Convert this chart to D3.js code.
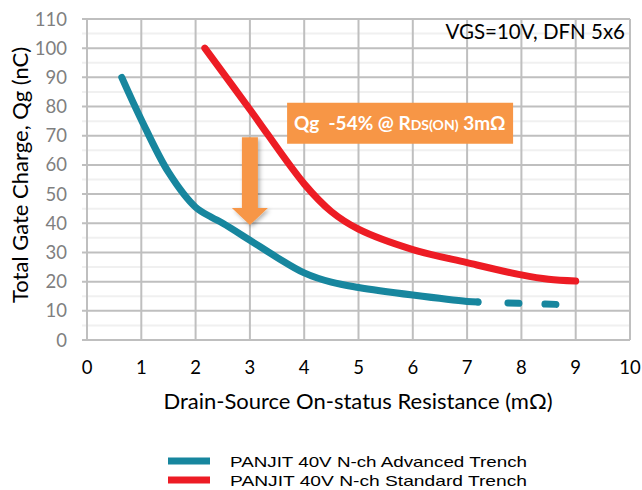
<!DOCTYPE html>
<html>
<head>
<meta charset="utf-8">
<script src="https://cdn.jsdelivr.net/npm/d3@7"></script>
<style>
  body { margin: 0; background: #fff; }
  svg { display: block; }
</style>
</head>
<body>
<div id="chart"></div>
<script>
var W = 642, H = 490;
var margin = { top: 19, right: 12, bottom: 150, left: 87 };

// data
var seriesNames = ["PANJIT 40V N-ch Advanced Trench", "PANJIT 40V N-ch Standard Trench"];
var seriesColors = ["#17869e", "#ed1c24"];
var advancedQg = [[0.64, 90], [1, 75.5], [1.5, 57.5], [2, 45.5], [2.3, 42], [2.5, 40], [3, 34.2], [3.5, 28.3], [4, 23], [4.5, 19.8], [5, 18], [6, 15.4], [7, 13.2], [7.2, 13]];
var advancedQgExtended = [[7.2, 13], [8.65, 12.2]];
var standardQg = [[2.17, 100], [3, 79], [4, 53.5], [4.5, 44], [5, 38], [6, 31], [7, 26.5], [8, 22.3], [8.5, 20.8], [9, 20.2]];
var xTickValues = d3.range(0, 11, 1);
var yTickValues = d3.range(0, 111, 10);
var yMinorValues = d3.range(5, 110, 10);
var noteText = ["Qg  -54% @ R", "DS(ON)", " 3mΩ"];
var condText = "VGS=10V, DFN 5x6";

var svg = d3.select("#chart").append("svg")
    .attr("width", W)
    .attr("height", H);

var x = d3.scaleLinear().domain([0, 10]).range([margin.left, W - margin.right]);
var y = d3.scaleLinear().domain([0, 110]).range([H - margin.bottom, margin.top]);

var font = "Lato, 'Open Sans', sans-serif";

// minor gridlines
svg.append("g").selectAll("line")
    .data(yMinorValues)
    .enter().append("line")
    .attr("x1", x(0) - 5).attr("x2", x(10))
    .attr("y1", function(d) { return y(d); })
    .attr("y2", function(d) { return y(d); })
    .attr("stroke", "#f0f0f0")
    .attr("stroke-width", 2);

// major gridlines
svg.append("g").selectAll("line")
    .data(yTickValues)
    .enter().append("line")
    .attr("x1", x(0) - 5).attr("x2", x(10))
    .attr("y1", function(d) { return y(d); })
    .attr("y2", function(d) { return y(d); })
    .attr("stroke", "#bfbfbf")
    .attr("stroke-width", 2);

svg.append("g").selectAll("line")
    .data(xTickValues)
    .enter().append("line")
    .attr("x1", function(d) { return x(d); })
    .attr("x2", function(d) { return x(d); })
    .attr("y1", y(110)).attr("y2", y(0))
    .attr("stroke", "#bfbfbf")
    .attr("stroke-width", 2);

// tick labels
svg.append("g").selectAll("text")
    .data(yTickValues)
    .enter().append("text")
    .attr("x", 67)
    .attr("y", function(d) { return y(d) + 6.5; })
    .attr("text-anchor", "end")
    .style("font-family", font)
    .style("font-size", "18.5px")
    .attr("fill", "#7f7f7f")
    .text(function(d) { return d; });

svg.append("g").selectAll("text")
    .data(xTickValues)
    .enter().append("text")
    .attr("x", function(d) { return x(d); })
    .attr("y", 374)
    .attr("text-anchor", "middle")
    .style("font-family", font)
    .style("font-size", "18.5px")
    .attr("fill", "#000")
    .text(function(d) { return d; });

// axis titles
svg.append("text")
    .attr("x", 358).attr("y", 409)
    .attr("text-anchor", "middle")
    .style("font-family", font)
    .style("font-size", "22px")
    .text("Drain-Source On-status Resistance (mΩ)");

svg.append("text")
    .attr("transform", "translate(28," + 175 + ")rotate(-90)")
    .attr("text-anchor", "middle")
    .style("font-family", font)
    .style("font-size", "22px")
    .text("Total Gate Charge, Qg (nC)");

svg.append("text")
    .attr("x", 625).attr("y", 39)
    .attr("text-anchor", "end")
    .style("font-family", font)
    .style("font-size", "20.5px")
    .text(condText);

// curves
var line = d3.line()
    .x(function(d) { return x(d[0]); })
    .y(function(d) { return y(d[1]); })
    .curve(d3.curveCatmullRom.alpha(0.5));

svg.append("path")
    .datum(standardQg)
    .attr("d", line)
    .attr("fill", "none")
    .attr("stroke", seriesColors[1])
    .attr("stroke-width", 7)
    .attr("stroke-linecap", "round");

svg.append("path")
    .datum(advancedQg)
    .attr("d", line)
    .attr("fill", "none")
    .attr("stroke", seriesColors[0])
    .attr("stroke-width", 7)
    .attr("stroke-linecap", "round");

svg.append("path")
    .datum(advancedQgExtended)
    .attr("d", d3.line().x(function(d) { return x(d[0]); }).y(function(d) { return y(d[1]); }))
    .attr("fill", "none")
    .attr("stroke", seriesColors[0])
    .attr("stroke-width", 7)
    .attr("stroke-linecap", "round")
    .attr("stroke-dasharray", "0 30 11 26 11 200");

// arrow
var defs = svg.append("defs");
var shadow = defs.append("filter").attr("id", "shadow")
    .attr("x", "-50%").attr("y", "-50%").attr("width", "200%").attr("height", "200%");
shadow.append("feDropShadow")
    .attr("dx", 2).attr("dy", 2).attr("stdDeviation", 2)
    .attr("flood-color", "#000").attr("flood-opacity", 0.3);

var ax = x(3), aTop = y(69.5), aTip = y(39.4);
var arrowPath = d3.path();
arrowPath.moveTo(ax - 8, aTop);
arrowPath.lineTo(ax + 8, aTop);
arrowPath.lineTo(ax + 8, aTip - 17);
arrowPath.lineTo(ax + 18, aTip - 17);
arrowPath.lineTo(ax, aTip);
arrowPath.lineTo(ax - 18, aTip - 17);
arrowPath.lineTo(ax - 8, aTip - 17);
arrowPath.closePath();
svg.append("path")
    .attr("d", arrowPath.toString())
    .attr("fill", "#f79646")
    .attr("filter", "url(#shadow)");

// note box
var bx = x(3.685), by = y(81.3);
svg.append("rect")
    .attr("x", bx).attr("y", by)
    .attr("width", 226).attr("height", 41)
    .attr("fill", "#f79646");

var note = svg.append("text")
    .attr("x", bx + 7).attr("y", by + 27)
    .attr("fill", "#fff")
    .style("font-family", font)
    .style("font-weight", "bold")
    .style("font-size", "19px")
    .style("white-space", "pre");
note.append("tspan").text(noteText[0]);
note.append("tspan").style("font-size", "14px").text(noteText[1]);
note.append("tspan").text(noteText[2]);

// legend
var legend = svg.append("g").selectAll("g")
    .data(seriesNames)
    .enter().append("g")
    .attr("transform", function(d, i) { return "translate(168," + (461 + i * 19) + ")"; });

legend.append("line")
    .attr("x1", 0).attr("x2", 42)
    .attr("stroke", function(d, i) { return seriesColors[i]; })
    .attr("stroke-width", 7);

legend.append("text")
    .attr("x", 62).attr("y", 5.5)
    .style("font-family", "'Liberation Sans', Arial, sans-serif")
    .style("font-size", "15px")
    .attr("textLength", 297)
    .attr("lengthAdjust", "spacingAndGlyphs")
    .text(function(d) { return d; });
</script>
</body>
</html>
